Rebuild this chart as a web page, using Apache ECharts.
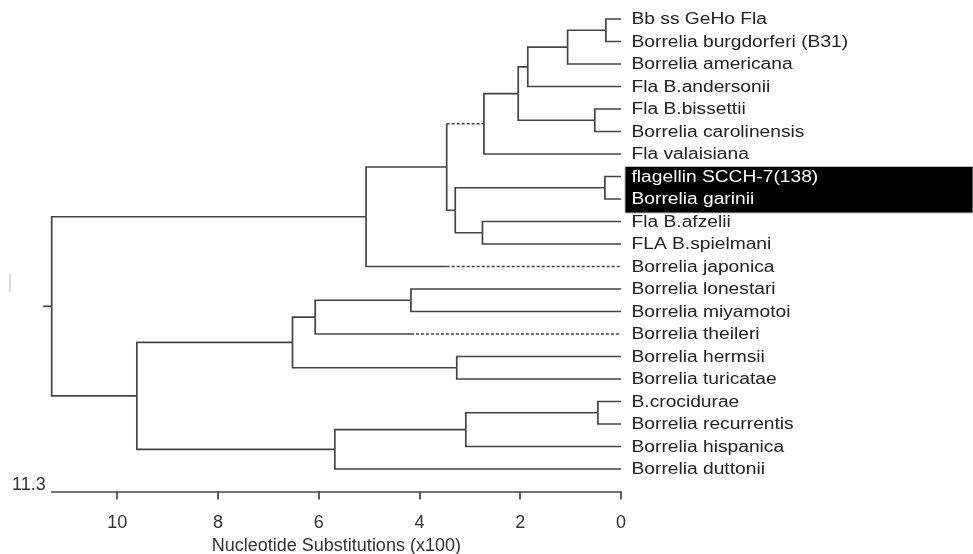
<!DOCTYPE html>
<html><head><meta charset="utf-8">
<script src="https://cdn.jsdelivr.net/npm/echarts@6/dist/echarts.min.js"></script>
<style>html,body{margin:0;padding:0;background:#fff}#c{width:973px;height:554px}</style>
</head><body><div id="c"></div>
<script>
// ---- data ----
const leafNames = [
  'Bb ss GeHo Fla', 'Borrelia burgdorferi (B31)', 'Borrelia americana', 'Fla B.andersonii',
  'Fla B.bissettii', 'Borrelia carolinensis', 'Fla valaisiana', 'flagellin SCCH-7(138)',
  'Borrelia garinii', 'Fla B.afzelii', 'FLA B.spielmani', 'Borrelia japonica',
  'Borrelia lonestari', 'Borrelia miyamotoi', 'Borrelia theileri', 'Borrelia hermsii',
  'Borrelia turicatae', 'B.crocidurae', 'Borrelia recurrentis', 'Borrelia hispanica',
  'Borrelia duttonii'
];
const highlightedLeaves = ['flagellin SCCH-7(138)', 'Borrelia garinii'];
const nodeNames = ['n1','n2','n3','n4','n5','n6','n7','n8','n9','n10','n11',
  'n12','n13','n14','n15','n16','n17','n18','n19','root'];
const nodeChildren = [
  ['Bb ss GeHo Fla', 'Borrelia burgdorferi (B31)'],
  ['n1', 'Borrelia americana'],
  ['n2', 'Fla B.andersonii'],
  ['Fla B.bissettii', 'Borrelia carolinensis'],
  ['n3', 'n4'],
  ['n5', 'Fla valaisiana'],
  ['flagellin SCCH-7(138)', 'Borrelia garinii'],
  ['Fla B.afzelii', 'FLA B.spielmani'],
  ['n7', 'n8'],
  ['n6', 'n9'],
  ['n10', 'Borrelia japonica'],
  ['Borrelia lonestari', 'Borrelia miyamotoi'],
  ['n12', 'Borrelia theileri'],
  ['Borrelia hermsii', 'Borrelia turicatae'],
  ['n13', 'n14'],
  ['B.crocidurae', 'Borrelia recurrentis'],
  ['n16', 'Borrelia hispanica'],
  ['n17', 'Borrelia duttonii'],
  ['n15', 'n18'],
  ['n11', 'n19']
];
const nodeHeights = [0.30, 1.06, 1.85, 0.52, 2.04, 2.72, 0.32, 2.75, 3.29, 3.46, 5.06,
  4.17, 6.07, 3.26, 6.52, 0.46, 3.08, 5.68, 9.61, 11.3];
const dashedBranches = ['n6', 'Borrelia japonica', 'Borrelia theileri'];
const dashStarts = [3.46, 3.46, 4.17];
const xTicks = [0, 2, 4, 6, 8, 10];
const xMax = 11.3;
const axisName = 'Nucleotide Substitutions (x100)';

// ---- layout (standard dendrogram: leaf rows, node y = mean of children) ----
const pos = {};
leafNames.forEach((n, i) => { pos[n] = { h: 0, y: i }; });
nodeNames.forEach((n, i) => {
  const c = nodeChildren[i];
  pos[n] = { h: nodeHeights[i], y: (pos[c[0]].y + pos[c[1]].y) / 2 };
});
const links = [];
nodeNames.forEach((n, i) => {
  nodeChildren[i].forEach(c => {
    const k = dashedBranches.indexOf(c);
    links.push([pos[c].h, pos[c].y, pos[n].h, pos[n].y, k >= 0 ? dashStarts[k] : -1]);
  });
});
const rootStub = 0.17;
links.push([pos.root.h, pos.root.y, pos.root.h + rootStub, pos.root.y, -1]);

const leafData = leafNames.map((n, i) => [0, i]);
const hlIdx = highlightedLeaves.map(n => leafNames.indexOf(n));
const boxData = [[0, Math.min(...hlIdx), Math.max(...hlIdx)]];

const FONT = '"Liberation Sans", Arial, sans-serif';
const LINE = '#444';

function renderLink(params, api) {
  const y = api.value(1);
  const c = api.coord([api.value(0), y]);
  const corner = api.coord([api.value(2), y]);
  const p = api.coord([api.value(2), api.value(3)]);
  const d = api.value(4);
  const style = { stroke: LINE, lineWidth: 1.7, fill: null };
  const children = [];
  if (d >= 0) {
    const m = api.coord([d, y]);
    children.push({ type: 'polyline', shape: { points: [m, corner, p] }, style });
    children.push({ type: 'line', shape: { x1: m[0], y1: c[1], x2: c[0], y2: c[1] },
      style: { stroke: LINE, lineWidth: 1.7, lineDash: [3, 2] } });
  } else {
    children.push({ type: 'polyline', shape: { points: [c, corner, p] }, style });
  }
  return { type: 'group', children };
}

function renderBox(params, api) {
  const a = api.coord([api.value(0), api.value(1)]);
  const b = api.coord([api.value(0), api.value(2)]);
  return {
    type: 'rect',
    shape: { x: a[0] + 4, y: a[1] - 10, width: api.getWidth() - a[0] - 4, height: b[1] - a[1] + 24 },
    style: { fill: '#000', stroke: '#bbb', lineWidth: 1 }
  };
}

function renderLabel(params, api) {
  const p = api.coord([api.value(0), api.value(1)]);
  const name = leafNames[params.dataIndex];
  const hl = highlightedLeaves.indexOf(name) >= 0;
  return {
    type: 'text', x: p[0] + 10.5, y: p[1] + 1, scaleX: 1.2,
    style: { text: name, fontSize: 16, fontFamily: FONT, fill: hl ? '#fff' : '#222',
      align: 'left', verticalAlign: 'middle' }
  };
}

const chart = echarts.init(document.getElementById('c'), null, { renderer: 'canvas' });
chart.setOption({
  backgroundColor: '#fff',
  animation: false,
  grid: { left: 51.7, right: 352, top: 19, bottom: 62.5, containLabel: false, outerBoundsMode: 'none' },
  xAxis: {
    type: 'value', inverse: true, min: 0, max: xMax, position: 'bottom',
    splitLine: { show: false },
    axisLine: { show: true, onZero: false, lineStyle: { color: LINE, width: 1.7 } },
    axisTick: { show: true, customValues: xTicks, length: 8, lineStyle: { color: LINE, width: 1.7 } },
    axisLabel: { customValues: xTicks, fontSize: 18, fontFamily: FONT, color: '#333', margin: 23 },
    name: axisName, nameLocation: 'middle', nameGap: 39,
    nameTextStyle: { fontSize: 18, fontFamily: FONT, color: '#333' }
  },
  yAxis: { type: 'value', inverse: true, min: 0, max: 21, show: false },
  graphic: [
    { type: 'text', left: 12, top: 476, style: { text: '11.3', fontSize: 18, fontFamily: FONT, fill: '#333' } },
    { type: 'line', shape: { x1: 10, y1: 274, x2: 10, y2: 292 }, style: { stroke: '#ddd', lineWidth: 2 } }
  ],
  series: [
    { type: 'custom', name: 'highlight', renderItem: renderBox, data: boxData, encode: { x: 0, y: [1, 2] }, clip: false, silent: true },
    { type: 'custom', name: 'branches', renderItem: renderLink, data: links, encode: { x: [0, 2], y: [1, 3] }, clip: false, silent: true },
    { type: 'custom', name: 'leaves', renderItem: renderLabel, data: leafData, encode: { x: 0, y: 1 }, clip: false, silent: true }
  ]
});
</script>
</body></html>
